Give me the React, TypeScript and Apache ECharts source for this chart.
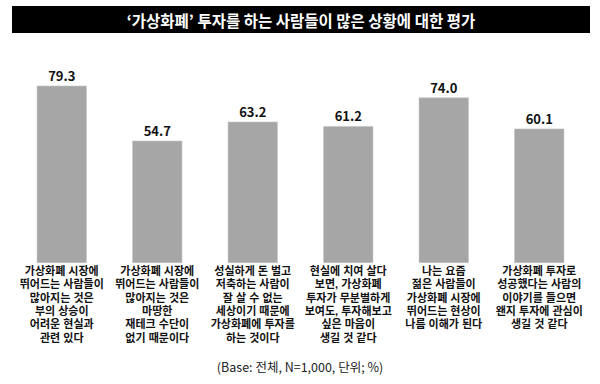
import React, { useEffect, useRef } from "react";
import * as echarts from "echarts";

const titleText = "‘가상화폐’ 투자를 하는 사람들이 많은 상황에 대한 평가";
const footnote = "(Base: 전체, N=1,000, 단위; %)";
const categories = [
  "가상화폐 시장에\n뛰어드는 사람들이\n많아지는 것은\n부의 상승이\n어려운 현실과\n관련 있다",
  "가상화폐 시장에\n뛰어드는 사람들이\n많아지는 것은\n마땅한\n재테크 수단이\n없기 때문이다",
  "성실하게 돈 벌고\n저축하는 사람이\n잘 살 수 없는\n세상이기 때문에\n가상화폐에 투자를\n하는 것이다",
  "현실에 치여 살다\n보면, 가상화폐\n투자가 무분별하게\n보여도, 투자해보고\n싶은 마음이\n생길 것 같다",
  "나는 요즘\n젊은 사람들이\n가상화폐 시장에\n뛰어드는 현상이\n나름 이해가 된다",
  "가상화폐 투자로\n성공했다는 사람의\n이야기를 들으면\n왠지 투자에 관심이\n생길 것 같다",
];
const values = [79.3, 54.7, 63.2, 61.2, 74.0, 60.1];

const FONT = "'Noto Sans CJK KR', 'Noto Sans', sans-serif";
const LABEL_FONT = "'Liberation Sans', 'Noto Sans CJK KR', sans-serif";

export default function App() {
  const ref = useRef<HTMLDivElement>(null);
  useEffect(() => {
    if (!ref.current) return;
    const chart = echarts.init(ref.current, null, { renderer: "svg" });
    chart.setOption({
      animation: false,
      backgroundColor: "#ffffff",
      textStyle: { fontFamily: FONT },
      grid: { left: 14, right: 13, top: 39.4, bottom: 121, containLabel: false },
      xAxis: {
        type: "category",
        data: categories,
        axisLine: { show: false },
        axisTick: { show: false },
        axisLabel: {
          interval: 0,
          margin: 1,
          fontSize: 11,
          lineHeight: 13.4,
          color: "#111111",
          fontWeight: "bold",
          fontFamily: LABEL_FONT,
          align: "center",
        },
      },
      yAxis: {
        type: "value",
        min: 0,
        max: 100,
        show: false,
        splitLine: { show: false },
      },
      series: [
        {
          type: "bar",
          data: values,
          barWidth: 50,
          itemStyle: { color: "#a6a6a6", borderColor: "#c4c4c4", borderWidth: 0.6 },
          label: {
            show: true,
            position: "top",
            distance: 4,
            fontSize: 13,
            fontWeight: "bold",
            color: "#111111",
            fontFamily: FONT,
            formatter: (p: any) => Number(p.value).toFixed(1),
          },
        },
      ],
      graphic: [
        {
          type: "rect",
          shape: { x: 12, y: 6, width: 578, height: 27 },
          style: { fill: "#000000" },
        },
        {
          type: "text",
          x: 301,
          y: 19.5,
          style: {
            text: titleText,
            fill: "#ffffff",
            fontSize: 15.5,
            fontWeight: "bold",
            fontFamily: FONT,
            align: "center",
            verticalAlign: "middle",
          },
        },
        {
          type: "text",
          x: 300,
          y: 366,
          style: {
            text: footnote,
            fill: "#222222",
            fontSize: 12.5,
            fontFamily: FONT,
            align: "center",
            verticalAlign: "middle",
          },
        },
      ],
    });
    return () => chart.dispose();
  }, []);
  return <div ref={ref} style={{ width: 600, height: 384, position: "absolute", left: 0, top: 0 }} />;
}
